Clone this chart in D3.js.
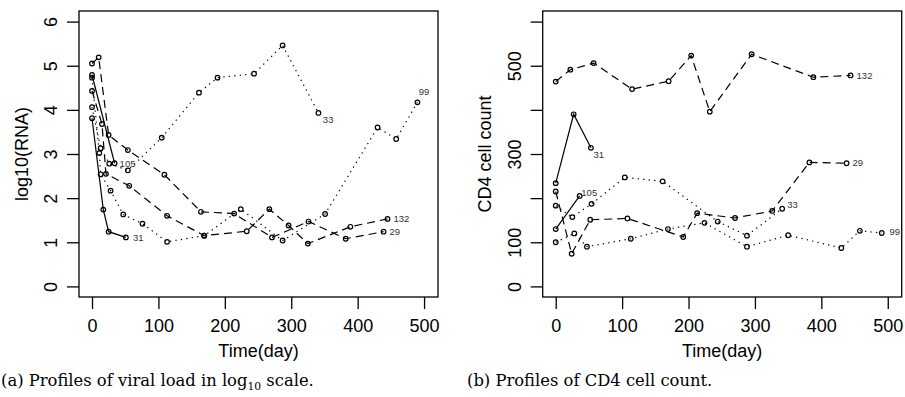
<!DOCTYPE html>
<html><head><meta charset="utf-8">
<script src="https://cdn.jsdelivr.net/npm/d3@7/dist/d3.min.js"></script>
<style>body{margin:0;background:#fff}svg{display:block}</style>
</head><body>
<svg id="c" width="905" height="397"></svg>
<script>
// ---- data ----
const dayTicks = [0, 100, 200, 300, 400, 500];
const rnaTicks = [0, 1, 2, 3, 4, 5, 6];
const rnaTickLabels = ["0", "1", "2", "3", "4", "5", "6"];
const cd4Ticks = [0, 100, 200, 300, 400, 500, 600];
const cd4TickLabels = ["0", "100", "", "300", "", "500", ""];
const patientIds = ["31", "105", "132", "29", "33", "99"];

// viral load (log10 RNA), [day, value]
const rna31  = [[0,3.81],[17,1.74],[25,1.24],[51,1.11]];
const rna105 = [[0,4.79],[34,2.79]];
const rna132 = [[0,4.43],[15,3.68],[21,2.55],[56,2.28],[113,1.60],[169,1.15],[233,1.25],[267,1.75],[296,1.38],[325,0.97],[389,1.35],[445,1.53]];
const rna29  = [[0,5.05],[10,5.19],[25,3.43],[54,3.09],[109,2.53],[164,1.69],[214,1.65],[271,1.11],[326,1.47],[382,1.08],[439,1.24]];
const rna33  = [[0,4.06],[13,3.13],[26,2.78],[54,2.63],[105,3.37],[161,4.39],[189,4.73],[244,4.82],[287,5.46],[341,3.93]];
const rna99  = [[0,4.73],[11,3.02],[13,2.54],[28,2.17],[47,1.63],[76,1.42],[113,1.01],[169,1.15],[224,1.75],[287,1.04],[351,1.64],[430,3.60],[458,3.34],[490,4.17]];

// CD4 cell count, [day, value]
const cd4_31  = [[0,234],[27,390],[53,314]];
const cd4_105 = [[0,130],[36,205]];
const cd4_132 = [[0,464],[22,491],[57,506],[115,447],[170,465],[204,523],[232,396],[295,526],[388,474],[444,478]];
const cd4_29  = [[0,215],[24,74],[52,151],[108,154],[192,112],[213,166],[270,155],[326,171],[382,281],[438,279]];
const cd4_33  = [[0,183],[25,157],[54,187],[104,247],[161,238],[244,147],[288,115],[341,176]];
const cd4_99  = [[0,100],[28,120],[47,90],[113,108],[169,130],[224,144],[288,90],[350,116],[430,87],[458,126],[491,121]];

const rnaSeries = {"31": rna31, "105": rna105, "132": rna132, "29": rna29, "33": rna33, "99": rna99};
const cd4Series = {"31": cd4_31, "105": cd4_105, "132": cd4_132, "29": cd4_29, "33": cd4_33, "99": cd4_99};

// ---- styling ----
const lineType = {"31":"solid","105":"solid","132":"dashed","29":"dashed","33":"dotted","99":"dotted"};
const dashes = {solid: null, dashed: "8,5", dotted: "1.3,4.2"};
const rnaLabelOff = {"31":[7,0],"105":[5,0],"132":[6,0],"29":[6,0],"33":[4.4,6.6],"99":[1.3,-10.6]};
const cd4LabelOff = {"31":[2.6,6.3],"105":[1.7,-3.7],"132":[6,0],"29":[6,-1],"33":[5,-4],"99":[7.6,-1.6]};

const svg = d3.select("#c");
const FONT = "'Liberation Sans', Arial, Helvetica, sans-serif";
const TOP = 11, BOTTOM = 297;

function panel(o) {
  const x = d3.scaleLinear().domain([-19.6, 521]).range([o.x0, o.x1]);
  const y = d3.scaleLinear().domain(o.yDomain).range([BOTTOM, TOP]);
  const g = svg.append("g");

  g.append("rect").attr("x", o.x0).attr("y", TOP).attr("width", o.x1 - o.x0).attr("height", BOTTOM - TOP)
    .attr("fill", "none").attr("stroke", "#000").attr("stroke-width", 1.3);

  const xa = g.append("g").attr("transform", `translate(0,${BOTTOM})`)
    .call(d3.axisBottom(x).tickValues(dayTicks).tickSize(12).tickPadding(10).tickFormat(d3.format("d")));
  xa.select(".domain").remove();
  xa.selectAll(".tick line").attr("stroke", "#000").attr("stroke-width", 1.3);
  xa.selectAll(".tick text").attr("font-family", FONT).attr("font-size", 18).attr("fill", "#000");

  const ya = g.append("g").attr("transform", `translate(${o.x0},0)`)
    .call(d3.axisLeft(y).tickValues(o.yTicks).tickSize(12).tickFormat((d, i) => o.yLabels[i]));
  ya.select(".domain").remove();
  ya.selectAll(".tick line").attr("stroke", "#000").attr("stroke-width", 1.3);
  ya.selectAll(".tick text").attr("font-family", FONT).attr("font-size", 18).attr("fill", "#000")
    .attr("text-anchor", "middle").attr("x", 0).attr("y", -22).attr("dy", null)
    .attr("transform", "rotate(-90)");

  g.append("text").attr("x", (o.x0 + o.x1) / 2).attr("y", 357).attr("text-anchor", "middle")
    .attr("font-family", FONT).attr("font-size", 18).text("Time(day)");
  g.append("text").attr("transform", `translate(${o.x0 - 51.3},${(TOP + BOTTOM) / 2}) rotate(-90)`)
    .attr("text-anchor", "middle").attr("font-family", FONT).attr("font-size", 18).text(o.yTitle);

  const line = d3.line().x(d => x(d[0])).y(d => y(d[1]));
  patientIds.forEach(id => {
    const data = o.series[id];
    g.append("path").datum(data).attr("d", line).attr("fill", "none").attr("stroke", "#000")
      .attr("stroke-width", 1.2).attr("stroke-dasharray", dashes[lineType[id]]);
    g.selectAll(null).data(data).enter().append("circle")
      .attr("cx", d => x(d[0])).attr("cy", d => y(d[1])).attr("r", 2.3)
      .attr("fill", "none").attr("stroke", "#000").attr("stroke-width", 1.2);
    const last = data[data.length - 1];
    const off = o.labelOff[id];
    g.append("text").attr("x", x(last[0]) + off[0]).attr("y", y(last[1]) + off[1])
      .attr("dominant-baseline", "central").attr("font-family", FONT).attr("font-size", 9.5)
      .attr("fill", "#333").text(id);
  });
}

panel({x0: 79, x1: 438, yDomain: [-0.24, 6.24], yTicks: rnaTicks, yLabels: rnaTickLabels,
       yTitle: "log10(RNA)", series: rnaSeries, labelOff: rnaLabelOff});
panel({x0: 542.7, x1: 901.7, yDomain: [-24, 624], yTicks: cd4Ticks, yLabels: cd4TickLabels,
       yTitle: "CD4 cell count", series: cd4Series, labelOff: cd4LabelOff});

// captions (serif), sized so caption (a) spans roughly the panel's caption width
const SERIF = "'DejaVu Serif', 'Liberation Serif', serif";
const capA = svg.append("text").attr("x", 1).attr("y", 386).attr("font-family", SERIF).attr("font-size", 15);
capA.append("tspan").text("(a) Profiles of viral load in log");
const sub = capA.append("tspan").attr("font-size", 10).attr("dy", 4).text("10");
capA.append("tspan").attr("dy", -4).text(" scale.");
const capB = svg.append("text").attr("x", 467).attr("y", 386).attr("font-family", SERIF).attr("font-size", 15)
  .text("(b) Profiles of CD4 cell count.");
const wA = capA.node().getComputedTextLength();
const fs = Math.max(11, Math.min(20, 15 * 313 / wA));
capA.attr("font-size", fs); sub.attr("font-size", fs * 0.66);
capB.attr("font-size", fs);
</script>
</body></html>
